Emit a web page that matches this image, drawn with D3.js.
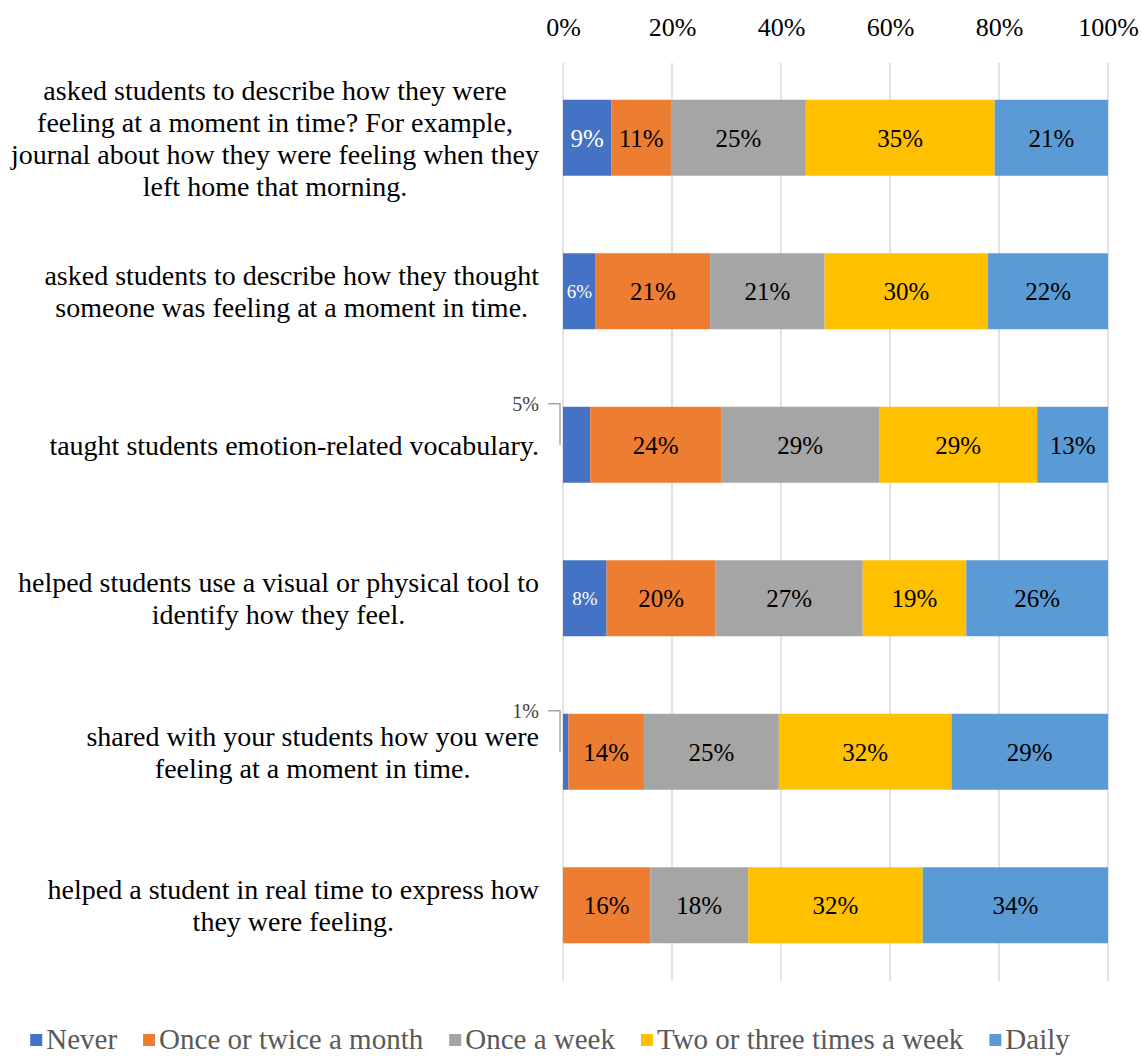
<!DOCTYPE html>
<html>
<head>
<meta charset="utf-8">
<script src="https://cdn.jsdelivr.net/npm/d3@7"></script>
<style>
  html, body { margin: 0; padding: 0; background: #fff; }
  svg { display: block; }
  svg text { font-family: "Liberation Serif", "Times New Roman", serif; }
</style>
</head>
<body>
<svg id="chart" width="1142" height="1057"></svg>
<script>
// Survey items (each split into its wrapped lines)
const categories = [
  ["asked students to describe how they were", "feeling at a moment in time? For example,", "journal about how they were feeling when they", "left home that morning."],
  ["asked students to describe how they thought", "someone was feeling at a moment in time."],
  ["taught students emotion-related vocabulary."],
  ["helped students use a visual or physical tool to", "identify how they feel."],
  ["shared with your students how you were", "feeling at a moment in time."],
  ["helped a student in real time to express how", "they were feeling."]
];

const seriesNames = ["Never", "Once or twice a month", "Once a week", "Two or three times a week", "Daily"];

// Percent of respondents per frequency, one list per series (same order as categories)
const never        = [9, 6, 5, 8, 1, 0];
const onceTwice    = [11, 21, 24, 20, 14, 16];
const onceWeek     = [25, 21, 29, 27, 25, 18];
const twoThree     = [35, 30, 29, 19, 32, 32];
const daily        = [21, 22, 13, 26, 29, 34];

const tickValues = [0, 0.2, 0.4, 0.6, 0.8, 1.0];

const colors = ["#4472C4", "#ED7D31", "#A5A5A5", "#FFC000", "#5B9BD5"];

const seriesValues = [never, onceTwice, onceWeek, twoThree, daily];
const rows = categories.map((c, i) => {
  const r = { idx: i };
  seriesNames.forEach((s, k) => r[s] = seriesValues[k][i]);
  return r;
});

const svg = d3.select("#chart");

const x = d3.scaleLinear().domain([0, 1]).range([563, 1108]);
const y = d3.scaleBand().domain(d3.range(categories.length)).range([61, 982]).paddingInner(0.505).paddingOuter(0.2525);

// 100% stacked layout
const stacked = d3.stack().keys(seriesNames).offset(d3.stackOffsetExpand)(rows);

// Vertical gridlines
svg.append("g")
  .selectAll("line")
  .data(tickValues)
  .join("line")
  .attr("x1", d => x(d)).attr("x2", d => x(d))
  .attr("y1", 63).attr("y2", 981)
  .attr("stroke", "#d9d9d9").attr("stroke-width", 1.5);

// Top axis labels
const axis = d3.axisTop(x).tickValues(tickValues).tickFormat(d3.format(".0%")).tickSize(0).tickPadding(0);
const ax = svg.append("g").attr("transform", "translate(0,36)").call(axis);
ax.attr("font-family", null);
ax.select(".domain").remove();
ax.selectAll("text")
  .attr("font-size", 26).attr("fill", "#000").attr("dy", "0");

// Bars
const layers = svg.append("g").selectAll("g")
  .data(stacked)
  .join("g")
  .attr("fill", (d, i) => colors[i]);

layers.selectAll("rect")
  .data(d => d.map(p => ({ p, key: d.key })))
  .join("rect")
  .attr("x", d => x(d.p[0]))
  .attr("width", d => Math.max(0, x(d.p[1]) - x(d.p[0])))
  .attr("y", d => y(d.p.data.idx))
  .attr("height", y.bandwidth());

// Value labels
const labelG = svg.append("g");
stacked.forEach((layer, k) => {
  layer.forEach(p => {
    const v = p.data[layer.key];
    if (!v) return;
    const cy = y(p.data.idx) + y.bandwidth() / 2;
    const x0 = x(p[0]), x1 = x(p[1]);
    const w = x1 - x0;
    if (w < 30) {
      // Callout with leader line for thin segments
      const ly = y(p.data.idx) - 3;
      labelG.append("path")
        .attr("d", `M548,${ly} H560 V${cy}`)
        .attr("fill", "none").attr("stroke", "#a6a6a6").attr("stroke-width", 1.5);
      labelG.append("text")
        .attr("x", 539).attr("y", ly).attr("dy", "0.35em")
        .attr("text-anchor", "end")
        .attr("font-size", 20).attr("fill", "#404040")
        .text(v + "%");
      return;
    }
    const small = w < 46;
    labelG.append("text")
      .attr("x", (x0 + x1) / 2).attr("y", cy).attr("dy", "0.35em")
      .attr("text-anchor", "middle")
      .attr("font-size", small ? 19 : 25)
      .attr("fill", k === 0 ? "#fff" : "#000")
      .text(v + "%");
  });
});

// Category labels: centred lines, block right-aligned near the axis
const catG = svg.append("g");
const lineH = 32;
categories.forEach((lines, i) => {
  const cy = y(i) + y.bandwidth() / 2;
  const t = catG.append("text")
    .attr("font-size", 28).attr("fill", "#000").attr("text-anchor", "middle");
  lines.forEach((ln, j) => {
    t.append("tspan")
      .attr("x", 0)
      .attr("y", cy + (j - (lines.length - 1) / 2) * lineH)
      .attr("dy", "0.35em")
      .text(ln);
  });
  const maxW = d3.max(t.selectAll("tspan").nodes(), n => n.getComputedTextLength());
  t.selectAll("tspan").attr("x", 539 - maxW / 2);
});

// Legend
const legG = svg.append("g");
const legY = 1039;
let cursor = 0;
seriesNames.forEach((name, i) => {
  const g = legG.append("g");
  g.append("rect").attr("x", cursor).attr("y", legY - 5).attr("width", 12).attr("height", 12).attr("fill", colors[i]);
  const t = g.append("text").attr("x", cursor + 16).attr("y", legY).attr("dy", "0.33em")
    .attr("font-size", 29).attr("fill", "#595959").text(name);
  const w = t.node().getComputedTextLength();
  cursor += 16 + w + 26;
});
const totalW = cursor - 26;
legG.attr("transform", `translate(${550 - totalW / 2},0)`);
</script>
</body>
</html>
